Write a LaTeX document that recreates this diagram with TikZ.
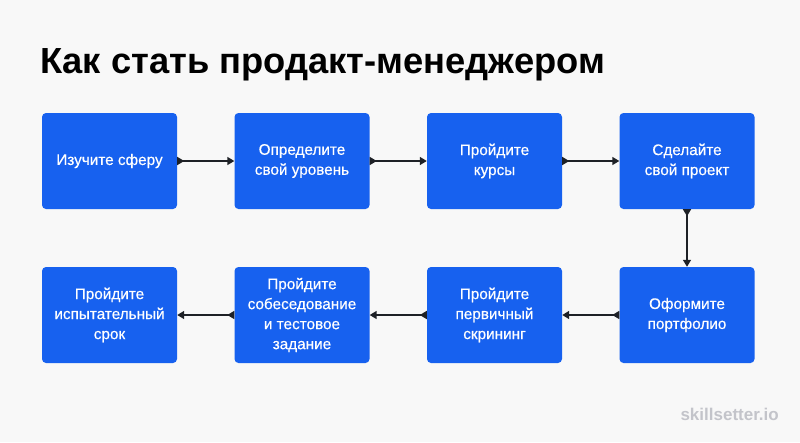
\documentclass[tikz,border=0pt]{standalone}
\usepackage{fontspec}
\setmainfont{Liberation Sans}
\newfontfamily\boxfont[FakeBold=0.4]{Liberation Sans}
\usetikzlibrary{arrows.meta}
\definecolor{bgcol}{HTML}{F8F8F8}
\definecolor{boxblue}{HTML}{1761EF}
\definecolor{arrowcol}{HTML}{1E2126}
\definecolor{markgray}{HTML}{C3C4CA}
\tikzstyle{box}=[rectangle, rounded corners=4pt, fill=boxblue, minimum width=135pt, minimum height=96pt, inner sep=0pt, text=white, align=center, anchor=center, font=\boxfont\fontsize{15.3}{20}\selectfont]
\tikzstyle{link}=[draw=arrowcol, line width=1.5pt, {Triangle[reversed, length=7pt, width=8pt]}-{Triangle[length=7pt, width=8pt]}]
\tikzstyle{annot}=[align=left, inner sep=0pt]

\begin{document}
\begin{tikzpicture}[x=1pt, y=-1pt]
	\fill[bgcol] (0,0) rectangle (800,442);
	\useasboundingbox (0,0) rectangle (800,442);

	\node[annot, anchor=base west, font=\fontsize{36.3}{40}\selectfont\bfseries](title) at (40,73) {Как стать продакт-менеджером};

	% top row, left to right
	\node[box](step1) at (109.5,161) {Изучите сферу};
	\node[box, right of=step1, node distance=192.5pt](step2) {Определите\\свой уровень};
	\node[box, right of=step2, node distance=192.5pt](step3) {Пройдите\\курсы};
	\node[box, right of=step3, node distance=192.5pt](step4) {Сделайте\\свой проект};

	% bottom row, right to left
	\node[box, below of=step4, node distance=154pt](step5) {Оформите\\портфолио};
	\node[box, left of=step5, node distance=192.5pt](step6) {Пройдите\\первичный\\скрининг};
	\node[box, left of=step6, node distance=192.5pt](step7) {Пройдите\\собеседование\\и тестовое\\задание};
	\node[box, left of=step7, node distance=192.5pt](step8) {Пройдите\\испытательный\\срок};

	\draw[link] (step1) -- (step2);
	\draw[link] (step2) -- (step3);
	\draw[link] (step3) -- (step4);
	\draw[link] (step4) -- (step5);
	\draw[link] (step5) -- (step6);
	\draw[link] (step6) -- (step7);
	\draw[link] (step7) -- (step8);

	\node[annot, anchor=base east, text=markgray, font=\fontsize{17}{20}\selectfont\bfseries](mark) at (779,420) {skillsetter.io};
\end{tikzpicture}
\end{document}
